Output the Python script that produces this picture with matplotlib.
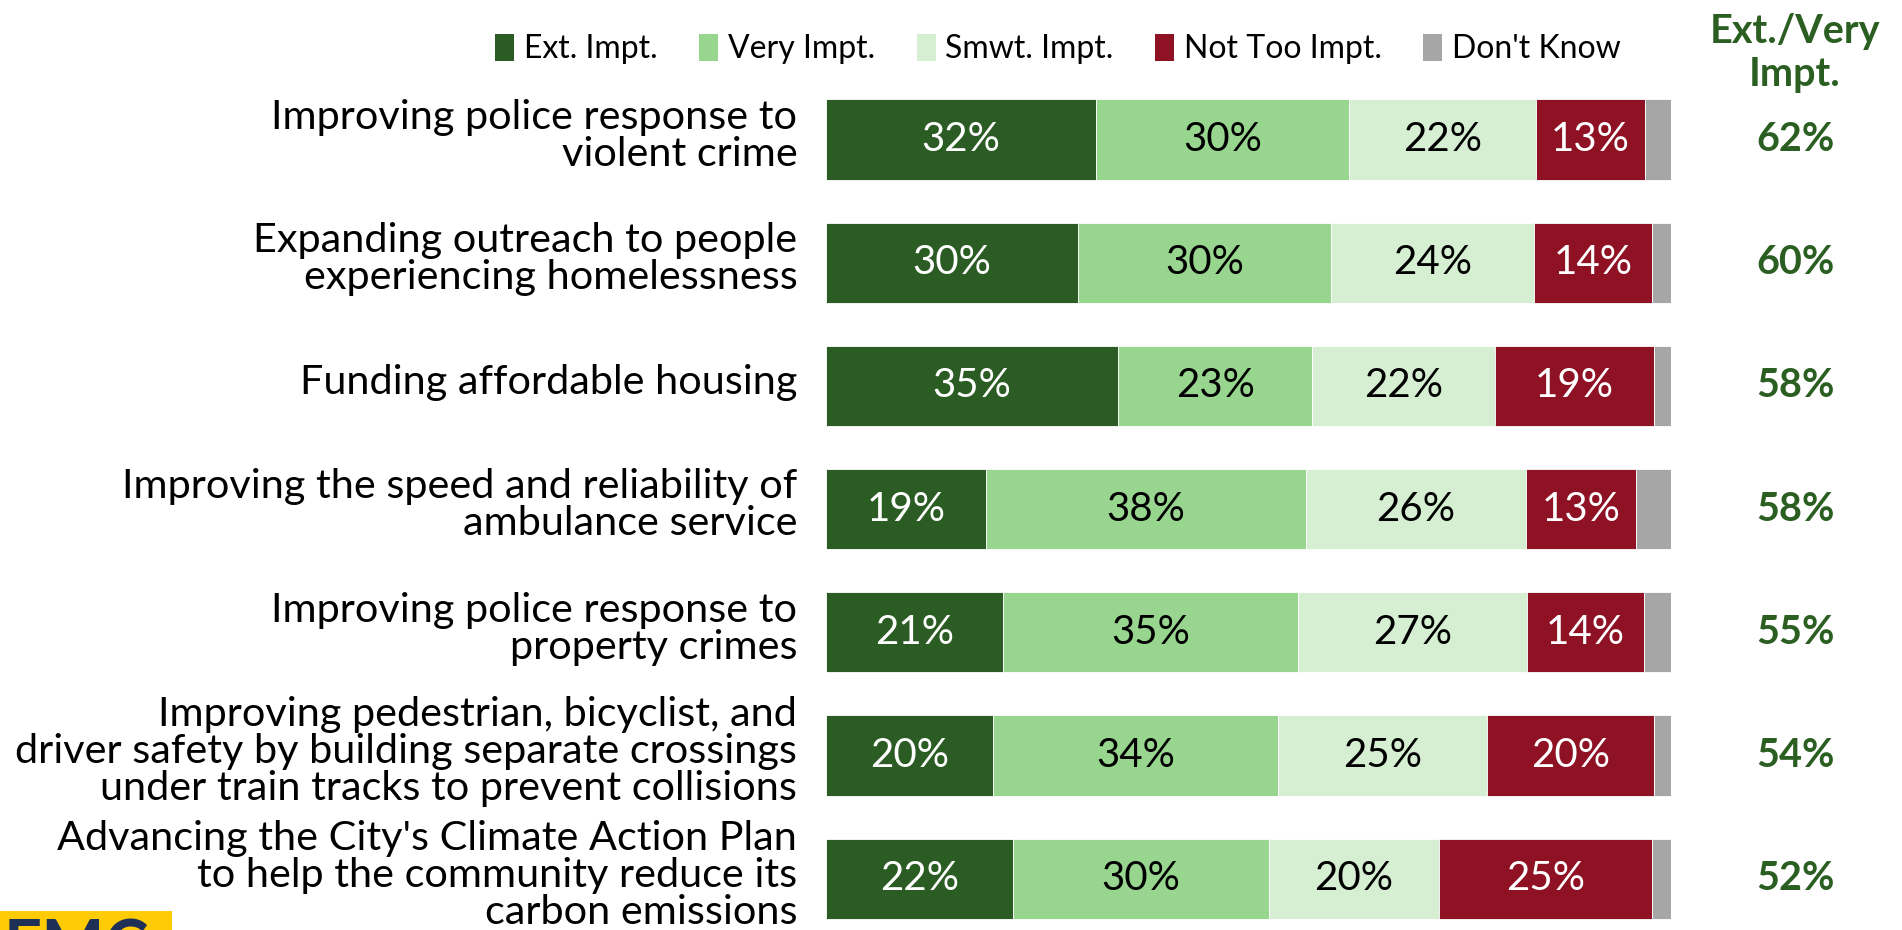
import numpy as np
import matplotlib.pyplot as plt
from matplotlib.patches import Patch, Rectangle
import matplotlib.transforms as mtransforms

plt.rcParams['font.family'] = ['Lato', 'DejaVu Sans']

categories = [
    "Improving police response to\nviolent crime",
    "Expanding outreach to people\nexperiencing homelessness",
    "Funding affordable housing",
    "Improving the speed and reliability of\nambulance service",
    "Improving police response to\nproperty crimes",
    "Improving pedestrian, bicyclist, and\ndriver safety by building separate crossings\nunder train tracks to prevent collisions",
    "Advancing the City's Climate Action Plan\nto help the community reduce its\ncarbon emissions",
]
ext_impt = [31.9, 29.8, 34.6, 18.9, 20.9, 19.8, 22.1]
very_impt = [30.0, 30.0, 22.9, 37.9, 35.0, 33.7, 30.3]
smwt_impt = [22.1, 24.0, 21.7, 26.0, 27.0, 24.7, 20.1]
not_too_impt = [12.9, 14.0, 18.8, 13.1, 13.9, 19.8, 25.3]
dont_know = [3.1, 2.2, 2.0, 4.1, 3.2, 2.0, 2.2]
ext_very = [62, 60, 58, 58, 55, 54, 52]

series_names = ["Ext. Impt.", "Very Impt.", "Smwt. Impt.", "Not Too Impt.", "Don't Know"]
colors = ["#2B5C23", "#98D68F", "#D6EFD2", "#8E1124", "#A6A6A6"]
text_colors = ["white", "black", "black", "white", None]
net_color = "#2B5F22"

fig = plt.figure(figsize=(19.02, 9.30), dpi=100)
ax = fig.add_axes([826 / 1902, 0.00215, 845 / 1902, 0.9141])

series = [ext_impt, very_impt, smwt_impt, not_too_impt, dont_know]
y = np.arange(len(categories))
left = np.zeros(len(categories))
for vals, col, tcol in zip(series, colors, text_colors):
    vals = np.array(vals)
    ax.barh(y, vals, left=left, height=0.65, color=col, edgecolor="white", linewidth=0.6)
    if tcol is not None:
        for yi, l, v in zip(y, left, vals):
            ax.text(l + v / 2, yi, f"{v:.0f}%", ha="center", va="center",
                    color=tcol, fontsize=29)
    left += vals

ax.set_xlim(0, 100)
ax.set_ylim(6.4, -0.5)
ax.axis("off")

# category labels
trans = mtransforms.blended_transform_factory(ax.transAxes, ax.transData)
for yi, cat in zip(y, categories):
    ax.text(-0.034, yi - 0.03, cat, transform=trans, ha="right", va="center",
            fontsize=29.8, linespacing=1.0, color="black")

# Ext./Very column
for yi, v in zip(y, ext_very):
    ax.text(1.147, yi, f"{v}%", transform=trans, ha="center", va="center",
            fontsize=28.5, fontweight="bold", color=net_color)
fig.text(1795 / 1902, 1 - 53 / 930, "Ext./Very\nImpt.", ha="center", va="center",
         fontsize=28.5, fontweight="bold", color=net_color, linespacing=1.2)

# legend
handles = [Patch(facecolor=c, edgecolor="none") for c in colors]
fig.legend(handles, series_names, loc="center", bbox_to_anchor=(1058 / 1902, 1 - 49 / 930),
           ncol=5, frameon=False, fontsize=23, handlelength=0.6, handleheight=0.95,
           handletextpad=0.3, columnspacing=1.3)

# partial logo at bottom left
fig.patches.append(Rectangle((0, 0), 172 / 1902, 19 / 930, transform=fig.transFigure,
                             facecolor="#FFCB05", edgecolor="none"))
fig.text(4 / 1902, 12 / 930, "EMC", ha="left", va="top", fontsize=48,
         fontweight="bold", color="#1F3056")

fig.savefig("out.png", dpi=100)
